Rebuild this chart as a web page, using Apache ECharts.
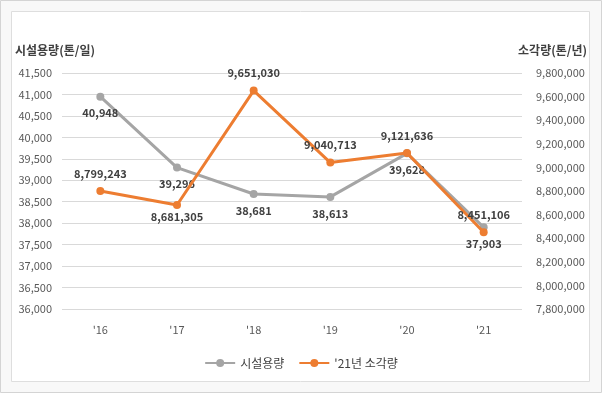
<!DOCTYPE html>
<html><head><meta charset="utf-8">
<script src="https://cdn.jsdelivr.net/npm/echarts@6/dist/echarts.min.js"></script>
<style>html,body{margin:0;padding:0;background:#fff}#c{width:602px;height:393px}</style>
</head><body><div id="c"></div>
<script>
const categories = ["'16", "'17", "'18", "'19", "'20", "'21"];
const capacity = [40948, 39296, 38681, 38613, 39628, 37903];
const incineration = [8799243, 8681305, 9651030, 9040713, 9121636, 8451106];
const seriesNames = ["시설용량", "'21년 소각량"];
const leftAxisName = "시설용량(톤/일)";
const rightAxisName = "소각량(톤/년)";
const orangeLabelPos = ["top", "bottom", "top", "top", "top", "top"];

const FONT = '"Noto Sans CJK KR", "Noto Sans", sans-serif';
const fmt = v => v.toLocaleString('en-US');
const chart = echarts.init(document.getElementById('c'), null, {renderer: 'canvas'});
chart.setOption({
  animation: false,
  textStyle: {fontFamily: FONT},
  graphic: [
    {type: 'rect', z: -10, shape: {x: 0.5, y: 0.5, width: 601, height: 392}, style: {fill: '#f8f8f8', stroke: '#d4d4d4', lineWidth: 1}},
    {type: 'rect', z: -9, shape: {x: 11.5, y: 11.5, width: 578, height: 370}, style: {fill: '#ffffff', stroke: '#dedede', lineWidth: 1}},
    {type: 'text', left: 15, top: 44, style: {text: leftAxisName, fill: '#404040', font: 'bold 12px ' + FONT}},
    {type: 'text', right: 15, top: 44, style: {text: rightAxisName, fill: '#404040', font: 'bold 12px ' + FONT}}
  ],
  grid: {left: 62, right: 80, top: 73, bottom: 84, containLabel: false},
  legend: {
    bottom: 19, left: 'center', itemWidth: 30, itemHeight: 10, itemGap: 14,
    textStyle: {color: '#404040', fontSize: 12, fontFamily: FONT},
    data: seriesNames
  },
  xAxis: {
    type: 'category', data: categories, boundaryGap: true,
    axisLine: {show: false}, axisTick: {show: false},
    axisLabel: {color: '#595959', fontSize: 11, margin: 15}
  },
  yAxis: [
    {type: 'value', min: 36000, max: 41500, interval: 500,
     axisLine: {show: false}, axisTick: {show: false},
     splitLine: {lineStyle: {color: '#d9d9d9', width: 1}},
     axisLabel: {color: '#595959', fontSize: 11, margin: 10, formatter: v => fmt(v)}},
    {type: 'value', min: 7800000, max: 9800000, interval: 200000, alignTicks: false,
     axisLine: {show: false}, axisTick: {show: false}, splitLine: {show: false},
     axisLabel: {color: '#595959', fontSize: 11, margin: 14, formatter: v => fmt(v)}}
  ],
  series: [
    {name: seriesNames[0], type: 'line', yAxisIndex: 0, data: capacity,
     symbol: 'circle', symbolSize: 8, z: 2,
     itemStyle: {color: '#a5a5a5'}, lineStyle: {color: '#a5a5a5', width: 3},
     label: {show: true, position: 'bottom', distance: 7, color: '#404040', fontSize: 11, fontWeight: 'bold', formatter: p => fmt(p.value)}},
    {name: seriesNames[1], type: 'line', yAxisIndex: 1,
     data: incineration.map((v, i) => ({value: v, label: {position: orangeLabelPos[i], distance: orangeLabelPos[i] === 'bottom' ? 2 : 8}})),
     symbol: 'circle', symbolSize: 8, z: 3,
     itemStyle: {color: '#ed7d31'}, lineStyle: {color: '#ed7d31', width: 3},
     label: {show: true, color: '#404040', fontSize: 11, fontWeight: 'bold', formatter: p => fmt(p.value)}}
  ]
});
</script></body></html>
